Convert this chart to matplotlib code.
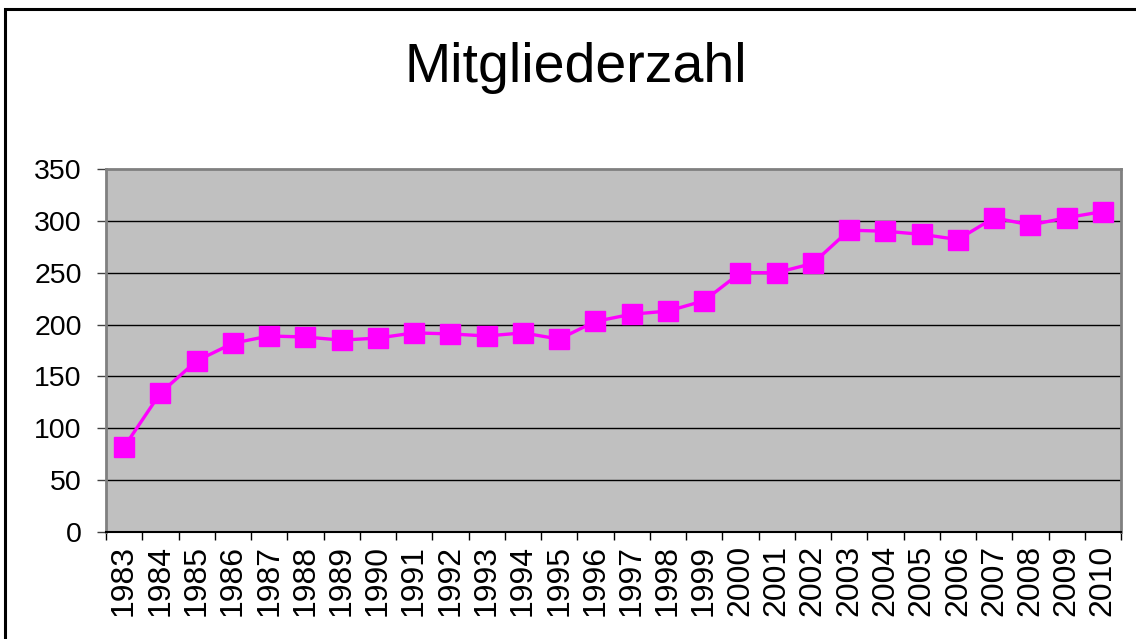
import matplotlib.pyplot as plt
from matplotlib.patches import Rectangle

years = [str(y) for y in range(1983, 2011)]
members = [82, 134, 165, 182, 189, 188, 185, 187, 192, 191, 189, 192, 186, 203,
           210, 213, 223, 250, 250, 259, 291, 290, 287, 282, 303, 296, 303, 309]
yticks = [0, 50, 100, 150, 200, 250, 300, 350]

plt.rcParams['font.family'] = ['Liberation Sans', 'DejaVu Sans']

fig = plt.figure(figsize=(11.36, 6.39), dpi=100)
ax = fig.add_axes([106 / 1136, 1 - 532 / 639, (1121 - 106) / 1136, (532 - 169) / 639])
ax.set_facecolor("#c0c0c0")

x = list(range(len(years)))
ax.plot(x, members, color="#ff00ff", lw=2.4, marker="s", ms=14, zorder=3)

ax.set_xlim(-0.5, len(years) - 0.5)
ax.set_ylim(0, 350)
ax.set_yticks(yticks)
ax.set_yticklabels([str(v) for v in yticks], fontsize=20.5)
ax.set_xticks(x)
ax.set_xticklabels(years, rotation=90, fontsize=23)
ax.tick_params(axis="x", which="major", length=0, pad=9)
ax.set_xticks([i - 0.5 for i in range(len(years) + 1)], minor=True)
ax.tick_params(axis="x", which="minor", length=6, width=1, color="black", direction="out")
ax.tick_params(axis="y", length=6.5, width=1, color="#404040", pad=11)

for v in yticks[1:-1]:
    ax.axhline(v, color="black", lw=1, zorder=1)

for side in ("left", "top", "right"):
    ax.spines[side].set_color("#808080")
    ax.spines[side].set_linewidth(2)
ax.spines["bottom"].set_color("black")
ax.spines["bottom"].set_linewidth(1.5)

fig.text(576 / 1136, 1 - 68 / 639, "Mitgliederzahl", fontsize=40, ha="center", va="center")

fig.patches.append(Rectangle((4.5 / 1136, -0.1), 1.2, 1.1 - 9 / 639, transform=fig.transFigure,
                             fill=False, edgecolor="black", lw=2.2))

fig.savefig("out.png", dpi=100)
